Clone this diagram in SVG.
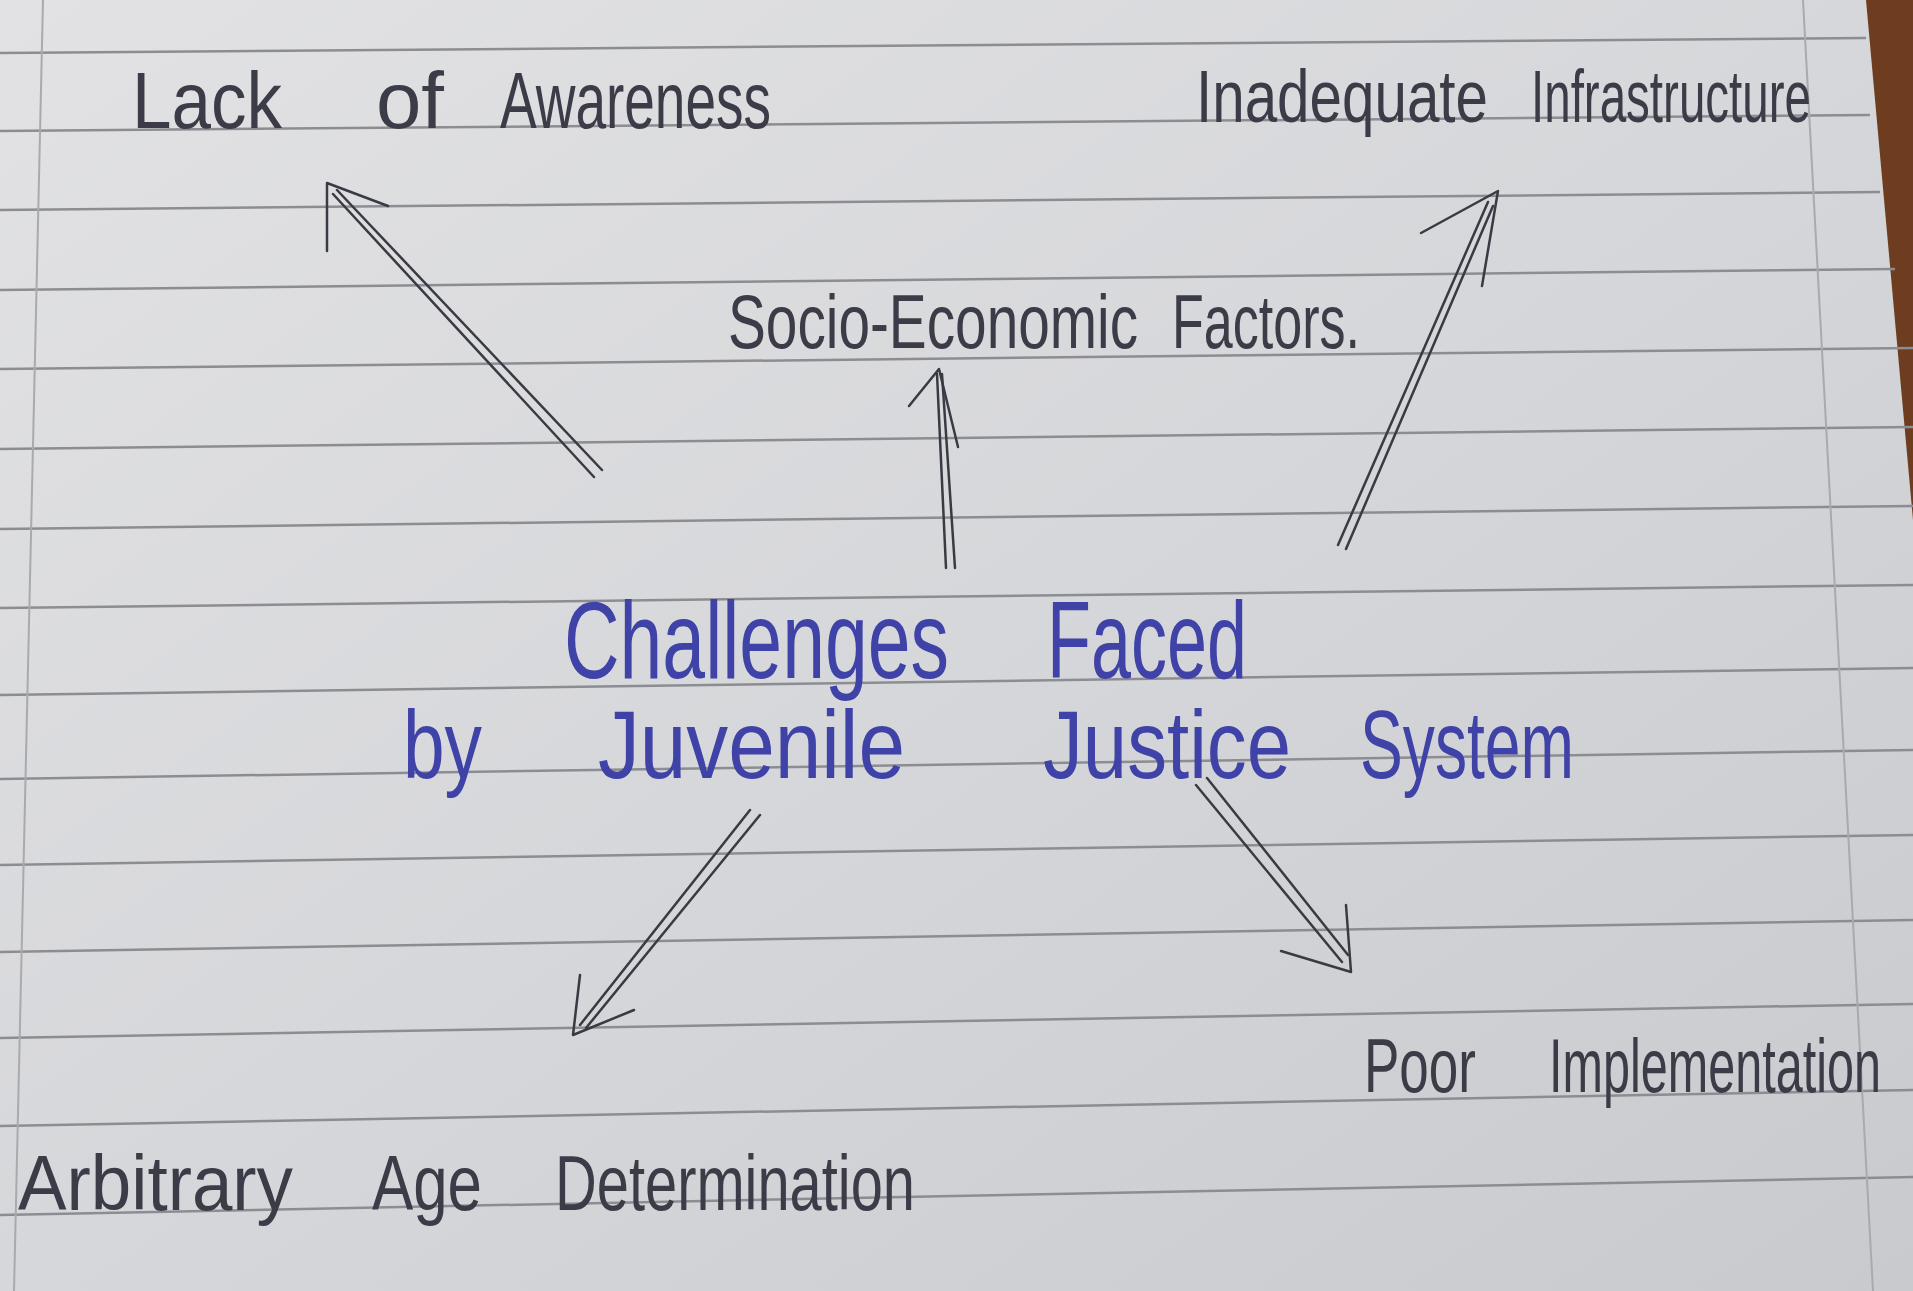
<svg xmlns="http://www.w3.org/2000/svg" width="1913" height="1291" viewBox="0 0 1913 1291">
<defs>
<linearGradient id="paper" x1="0" y1="0" x2="1" y2="1">
<stop offset="0" stop-color="#e2e2e4"/>
<stop offset="0.5" stop-color="#d6d7da"/>
<stop offset="1" stop-color="#c9cacd"/>
</linearGradient>
<style>
.rule{stroke:#8c8d92;stroke-width:2.5;fill:none}
.margin{stroke:#a9aaae;stroke-width:2;fill:none}
.pencil{font-family:"Liberation Sans Narrow","Liberation Sans",sans-serif;fill:#3c3c48}
.ink{font-family:"Liberation Sans Narrow","Liberation Sans",sans-serif;fill:#3f42a6}
.arrow{stroke:#3a3a44;stroke-width:2.5;fill:none;stroke-linecap:round;stroke-linejoin:round}
</style>
</defs>
<rect width="1913" height="1291" fill="url(#paper)"/>
<polygon points="1866,0 1913,0 1913,520" fill="#6e3c1e"/>
<g id="paper-lines">
<path class="rule" d="M0,53 L1866,38"/>
<path class="rule" d="M0,131 L1870,115"/>
<path class="rule" d="M0,210 L1880,192"/>
<path class="rule" d="M0,290 L1895,269"/>
<path class="rule" d="M0,369 L1913,348"/>
<path class="rule" d="M0,449 L1913,427"/>
<path class="rule" d="M0,529 L1913,506"/>
<path class="rule" d="M0,608 L1913,585"/>
<path class="rule" d="M0,695 L1913,668"/>
<path class="rule" d="M0,779 L1913,750"/>
<path class="rule" d="M0,865 L1913,835"/>
<path class="rule" d="M0,952 L1913,920"/>
<path class="rule" d="M0,1038 L1913,1004"/>
<path class="rule" d="M0,1126 L1913,1090"/>
<path class="rule" d="M0,1215 L1913,1177"/>
<path class="margin" d="M43,0 L14,1291"/>
<path class="margin" d="M1803,0 L1873,1291"/>
</g>
<g id="node-lack-of-awareness">
<text class="pencil" font-size="80" y="128"><tspan x="132" textLength="150" lengthAdjust="spacingAndGlyphs">Lack</tspan><tspan x="376" textLength="68" lengthAdjust="spacingAndGlyphs">of</tspan><tspan x="500" textLength="271" lengthAdjust="spacingAndGlyphs">Awareness</tspan></text>
</g>
<g id="node-inadequate-infrastructure">
<text class="pencil" font-size="74" y="122"><tspan x="1196" textLength="292" lengthAdjust="spacingAndGlyphs">Inadequate</tspan><tspan x="1531" textLength="280" lengthAdjust="spacingAndGlyphs">Infrastructure</tspan></text>
</g>
<g id="node-socio-economic">
<text class="pencil" font-size="76" y="348"><tspan x="728" textLength="410" lengthAdjust="spacingAndGlyphs">Socio-Economic</tspan><tspan x="1172" textLength="188" lengthAdjust="spacingAndGlyphs">Factors.</tspan></text>
</g>
<g id="node-center">
<text class="ink" font-size="110" y="678"><tspan x="564" textLength="385" lengthAdjust="spacingAndGlyphs">Challenges</tspan><tspan x="1047" textLength="200" lengthAdjust="spacingAndGlyphs">Faced</tspan></text>
<text class="ink" font-size="96" y="778"><tspan x="403" textLength="79" lengthAdjust="spacingAndGlyphs">by</tspan><tspan x="598" textLength="307" lengthAdjust="spacingAndGlyphs">Juvenile</tspan><tspan x="1043" textLength="248" lengthAdjust="spacingAndGlyphs">Justice</tspan><tspan x="1360" textLength="214" lengthAdjust="spacingAndGlyphs">System</tspan></text>
</g>
<g id="node-poor-implementation">
<text class="pencil" font-size="76" y="1092"><tspan x="1364" textLength="112" lengthAdjust="spacingAndGlyphs">Poor</tspan><tspan x="1549" textLength="332" lengthAdjust="spacingAndGlyphs">Implementation</tspan></text>
</g>
<g id="node-arbitrary-age">
<text class="pencil" font-size="78" y="1210"><tspan x="18" textLength="275" lengthAdjust="spacingAndGlyphs">Arbitrary</tspan><tspan x="372" textLength="110" lengthAdjust="spacingAndGlyphs">Age</tspan><tspan x="555" textLength="360" lengthAdjust="spacingAndGlyphs">Determination</tspan></text>
</g>
<g id="connectors">
<g id="arrow-lack">
<path class="arrow" d="M602,470 L337,190"/>
<path class="arrow" d="M594,477 L333,194"/>
<path class="arrow" d="M388,206 L327,183 L327,251"/>
</g>
<g id="arrow-socio">
<path class="arrow" d="M955,568 L942,374"/>
<path class="arrow" d="M946,568 L937,374"/>
<path class="arrow" d="M909,406 L939,369 L958,447"/>
</g>
<g id="arrow-infra">
<path class="arrow" d="M1338,545 L1488,202"/>
<path class="arrow" d="M1346,549 L1493,206"/>
<path class="arrow" d="M1421,233 L1498,191 L1482,286"/>
</g>
<g id="arrow-arbitrary">
<path class="arrow" d="M750,810 L580,1025"/>
<path class="arrow" d="M760,815 L586,1028"/>
<path class="arrow" d="M580,975 L573,1035 L634,1010"/>
</g>
<g id="arrow-poor">
<path class="arrow" d="M1196,785 L1342,962"/>
<path class="arrow" d="M1207,778 L1348,955"/>
<path class="arrow" d="M1346,905 L1351,972 L1281,951"/>
</g>
</g>
</svg>
